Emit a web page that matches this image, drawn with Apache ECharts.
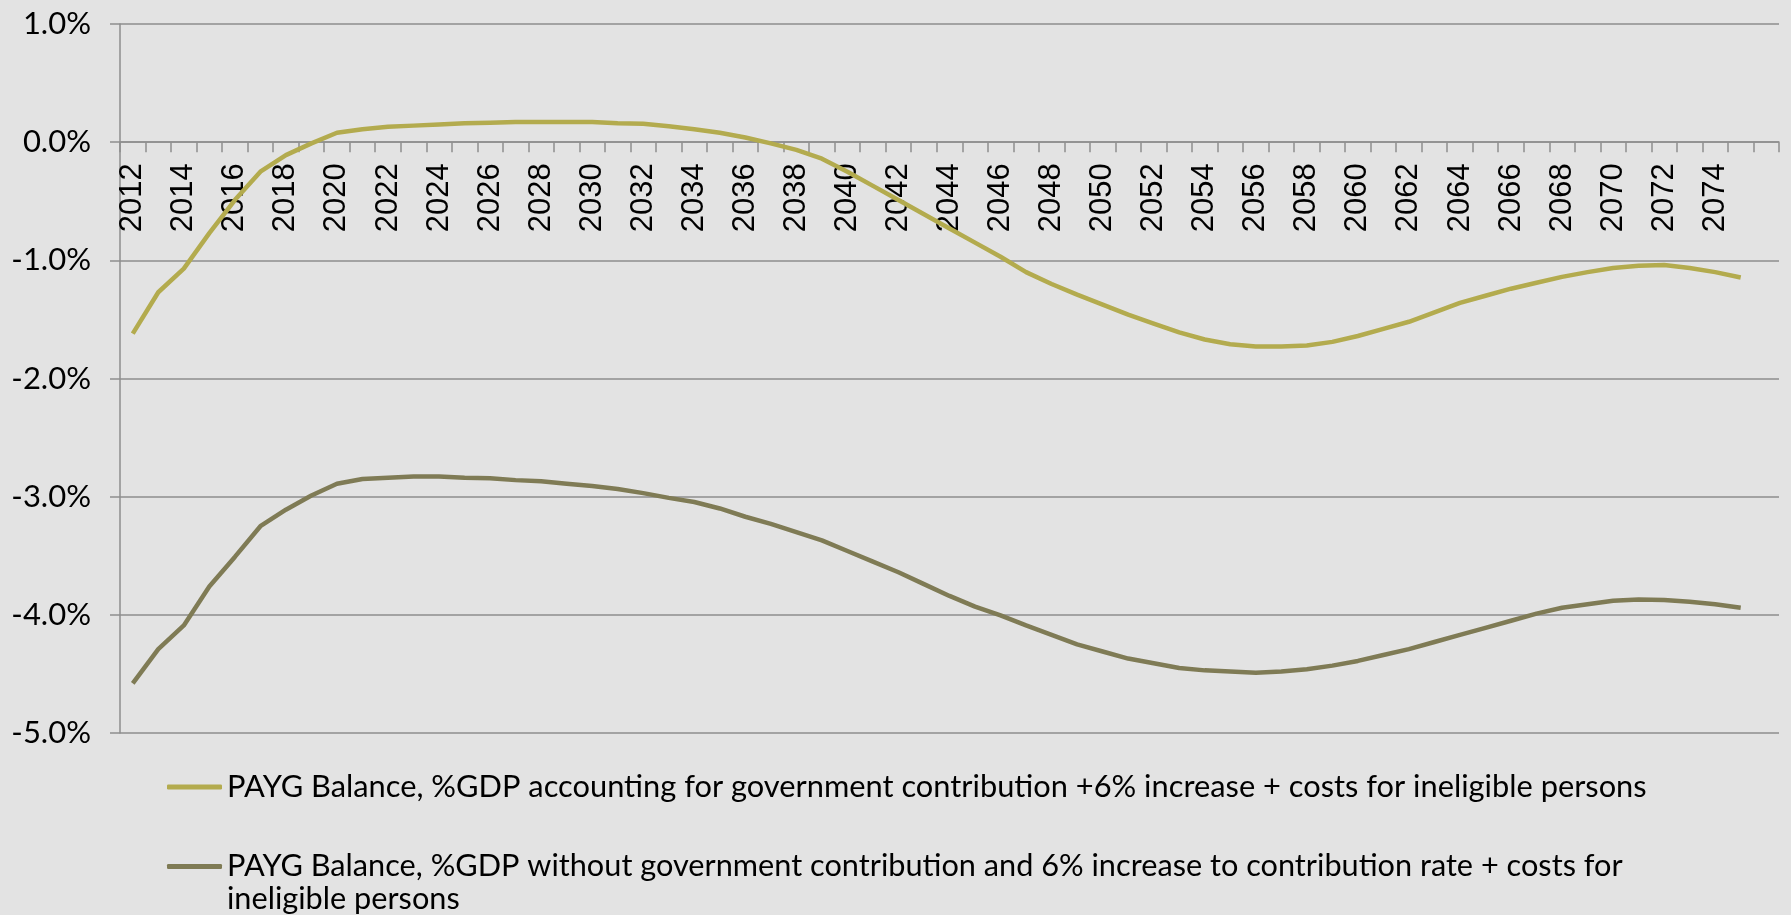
<!DOCTYPE html>
<html>
<head>
<meta charset="utf-8">
<script src="https://cdn.jsdelivr.net/npm/echarts@6/dist/echarts.min.js"></script>
<style>
html,body{margin:0;padding:0;background:#E3E3E3;}
#chart{width:1791px;height:915px;}
</style>
</head>
<body>
<div id="chart"></div>
<script>
// Categories: years 2012..2075 plus one trailing empty category
const years = [2012,2013,2014,2015,2016,2017,2018,2019,2020,2021,2022,2023,2024,2025,2026,2027,2028,2029,2030,
  2031,2032,2033,2034,2035,2036,2037,2038,2039,2040,2041,2042,2043,2044,2045,2046,2047,2048,2049,2050,
  2051,2052,2053,2054,2055,2056,2057,2058,2059,2060,2061,2062,2063,2064,2065,2066,2067,2068,2069,2070,
  2071,2072,2073,2074,2075,''];

const seriesNames = [
  'PAYG Balance, %GDP accounting for government contribution +6% increase + costs for ineligible persons',
  'PAYG Balance, %GDP without government contribution and 6% increase to contribution rate + costs for ineligible persons'
];

// Values in % of GDP
const withContribution = [-1.62,-1.27,-1.07,-0.77,-0.49,-0.25,-0.11,-0.01,0.08,0.11,0.13,0.14,0.15,0.16,0.165,0.17,0.17,0.17,0.17,
  0.16,0.155,0.135,0.11,0.08,0.04,-0.01,-0.065,-0.14,-0.25,-0.37,-0.49,-0.61,-0.73,-0.85,-0.97,-1.10,-1.20,-1.29,-1.375,
  -1.46,-1.535,-1.61,-1.67,-1.71,-1.73,-1.73,-1.72,-1.69,-1.64,-1.58,-1.52,-1.44,-1.36,-1.30,-1.24,-1.19,-1.14,-1.10,-1.065,
  -1.045,-1.04,-1.065,-1.10,-1.145,null];

const withoutContribution = [-4.58,-4.29,-4.09,-3.76,-3.51,-3.25,-3.11,-2.99,-2.89,-2.85,-2.84,-2.83,-2.83,-2.84,-2.845,-2.86,-2.87,-2.89,-2.91,
  -2.935,-2.97,-3.01,-3.045,-3.10,-3.17,-3.23,-3.30,-3.37,-3.46,-3.55,-3.64,-3.74,-3.84,-3.93,-4.005,-4.09,-4.17,-4.25,-4.31,
  -4.37,-4.41,-4.45,-4.47,-4.48,-4.49,-4.48,-4.46,-4.43,-4.39,-4.34,-4.29,-4.23,-4.17,-4.11,-4.05,-3.99,-3.94,-3.91,-3.88,
  -3.87,-3.875,-3.89,-3.91,-3.94,null];

const yMin = -5, yMax = 1;
const colors = ['#B3AB4E', '#7F7B55'];
const gridGray = '#8E8E8E';
const mainFont = 'Lato, "Open Sans", sans-serif';

const W = 1791, H = 915;
const gridTop = 24, gridBottom = 182;
const gridH = H - gridTop - gridBottom;
// move the category axis up to the zero line (distance from grid bottom)
const zeroOffset = -gridH * (0 - yMin) / (yMax - yMin);

const chart = echarts.init(document.getElementById('chart'), null, {renderer: 'canvas'});
chart.setOption({
  backgroundColor: '#E3E3E3',
  animation: false,
  grid: {left: 120, right: 12, top: gridTop, bottom: gridBottom, containLabel: false},
  xAxis: {
    type: 'category',
    data: years,
    position: 'bottom',
    offset: zeroOffset,
    boundaryGap: true,
    axisLine: {show: true, onZero: false, lineStyle: {color: gridGray, width: 1.5}},
    axisTick: {show: true, interval: 0, length: 10, lineStyle: {color: gridGray, width: 1.5}},
    axisLabel: {
      interval: 1, rotate: 90, margin: 21,
      fontFamily: '"Liberation Sans", Arial, sans-serif', fontSize: 31, color: '#000'
    },
    splitLine: {show: false}
  },
  yAxis: {
    type: 'value',
    min: yMin, max: yMax, interval: 1,
    axisLine: {show: true, lineStyle: {color: gridGray, width: 1.5}},
    axisTick: {show: true, length: 10, lineStyle: {color: gridGray, width: 1.5}},
    axisLabel: {
      margin: 29, fontFamily: mainFont, fontSize: 31, color: '#000',
      formatter: v => v.toFixed(1) + '%'
    },
    splitLine: {show: true, lineStyle: {color: gridGray, width: 1.5}}
  },
  legend: [
    {
      data: [seriesNames[0]],
      orient: 'vertical', left: 167, top: 770, padding: 0,
      icon: 'roundRect', itemWidth: 55, itemHeight: 5,
      textStyle: {fontFamily: mainFont, fontSize: 30.8, color: '#000', lineHeight: 34}
    },
    {
      data: [seriesNames[1]],
      orient: 'vertical', left: 167, top: 817, padding: 0,
      icon: 'roundRect', itemWidth: 55, itemHeight: 5,
      formatter: n => '\n' + n.replace(' ineligible', '\nineligible'),
      textStyle: {fontFamily: mainFont, fontSize: 30.7, color: '#000', lineHeight: 33}
    }
  ],
  series: [
    {
      name: seriesNames[0], type: 'line', data: withContribution,
      symbol: 'none', smooth: false, connectNulls: false,
      lineStyle: {width: 4.5, color: colors[0]}, itemStyle: {color: colors[0]}
    },
    {
      name: seriesNames[1], type: 'line', data: withoutContribution,
      symbol: 'none', smooth: false, connectNulls: false,
      lineStyle: {width: 4.5, color: colors[1]}, itemStyle: {color: colors[1]}
    }
  ]
});
</script>
</body>
</html>
